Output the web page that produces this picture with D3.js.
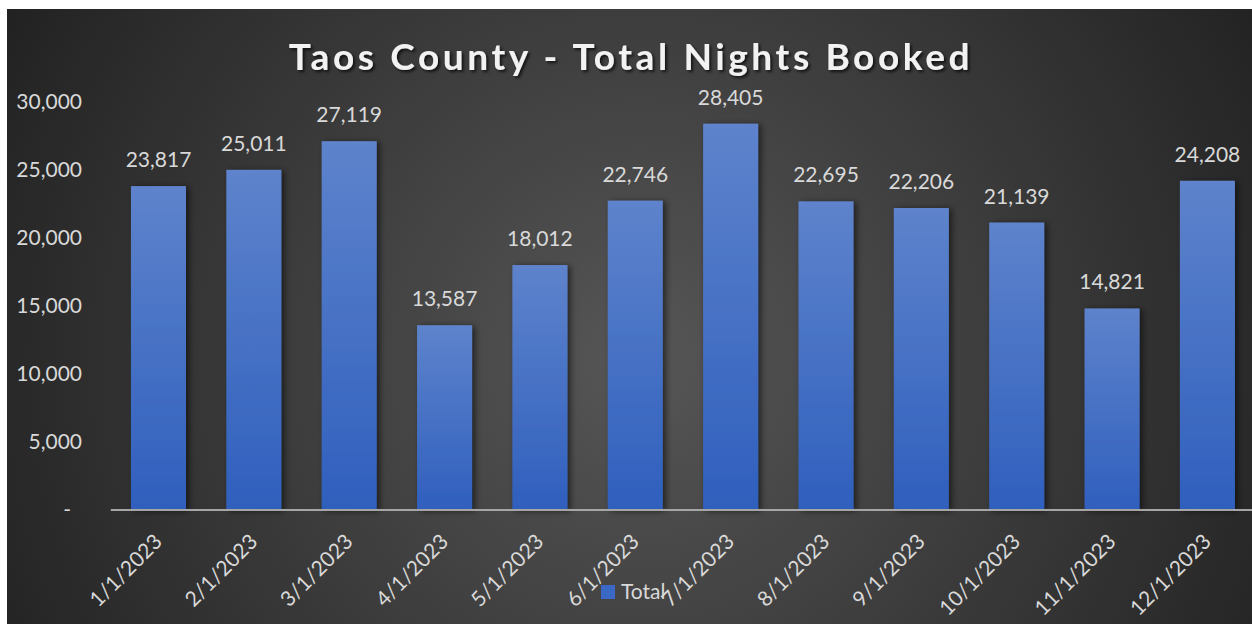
<!DOCTYPE html>
<html>
<head>
<meta charset="utf-8">
<script src="https://cdn.jsdelivr.net/npm/d3@7"></script>
<style>
    html, body { margin: 0; padding: 0; background: #fff; overflow: hidden; }
    svg { display: block; font-family: Lato, "Open Sans", sans-serif; }
</style>
</head>
<body>
<div id="chart"></div>
<script>
const months = ['1/1/2023', '2/1/2023', '3/1/2023', '4/1/2023', '5/1/2023', '6/1/2023',
    '7/1/2023', '8/1/2023', '9/1/2023', '10/1/2023', '11/1/2023', '12/1/2023'];
const totals = [23817, 25011, 27119, 13587, 18012, 22746, 28405, 22695, 22206, 21139, 14821, 24208];
const yTicks = [0, 5000, 10000, 15000, 20000, 25000, 30000];
const seriesName = 'Total';
const chartTitle = 'Taos County - Total Nights Booked';

const width = 1252, height = 624;
const labelColor = '#d9d9d9';

const svg = d3.select('#chart').append('svg')
    .attr('width', width)
    .attr('height', height);

const defs = svg.append('defs');

// fond radial facon Excel
const bg = defs.append('radialGradient')
    .attr('id', 'bg')
    .attr('gradientUnits', 'userSpaceOnUse')
    .attr('cx', 640).attr('cy', 360).attr('r', 720);
bg.append('stop').attr('offset', '0%').attr('stop-color', '#565656');
bg.append('stop').attr('offset', '100%').attr('stop-color', '#222222');

const barGrad = defs.append('linearGradient')
    .attr('id', 'barGrad')
    .attr('x1', 0).attr('y1', 0).attr('x2', 0).attr('y2', 1);
barGrad.append('stop').attr('offset', '0%').attr('stop-color', '#5e83cc');
barGrad.append('stop').attr('offset', '100%').attr('stop-color', '#2f5fbd');

const barShadow = defs.append('filter').attr('id', 'barShadow')
    .attr('x', '-20%').attr('y', '-5%').attr('width', '150%').attr('height', '110%');
barShadow.append('feDropShadow')
    .attr('dx', 3).attr('dy', 1).attr('stdDeviation', 3)
    .attr('flood-color', '#000').attr('flood-opacity', 0.55);

const titleShadow = defs.append('filter').attr('id', 'titleShadow')
    .attr('x', '-5%').attr('y', '-30%').attr('width', '110%').attr('height', '160%');
titleShadow.append('feDropShadow')
    .attr('dx', 2).attr('dy', 2).attr('stdDeviation', 1.5)
    .attr('flood-color', '#000').attr('flood-opacity', 0.7);

svg.append('rect')
    .attr('x', 7).attr('y', 9)
    .attr('width', width).attr('height', height)
    .attr('fill', 'url(#bg)');

// echelles
const x = d3.scaleBand()
    .domain(months)
    .range([110.8, 1255.1])
    .paddingInner(0.423)
    .paddingOuter(0.2115);

const y = d3.scaleLinear()
    .domain([0, 30000])
    .range([510, 102]);

// titre
svg.append('text')
    .attr('x', 631)
    .attr('y', 70)
    .attr('text-anchor', 'middle')
    .attr('fill', '#f2f2f2')
    .attr('filter', 'url(#titleShadow)')
    .style('font-size', '37px')
    .style('font-weight', 'bold')
    .style('letter-spacing', '3.6px')
    .text(chartTitle);

// axe Y
const yAxis = svg.append('g')
    .attr('transform', 'translate(82,0)')
    .call(d3.axisLeft(y)
        .tickValues(yTicks)
        .tickSize(0)
        .tickPadding(0)
        .tickFormat(d => d === 0 ? '-' : d3.format(',')(d)));
yAxis.select('.domain').remove();
yAxis.selectAll('text')
    .attr('fill', labelColor)
    .attr('dx', d => d === 0 ? -11 : 0)
    .style('font-size', '21px')
    .style('font-family', 'Lato, "Open Sans", sans-serif');

// barres
svg.append('g')
    .selectAll('rect')
    .data(totals)
    .enter()
    .append('rect')
    .attr('x', (d, i) => x(months[i]))
    .attr('y', d => y(d))
    .attr('width', x.bandwidth())
    .attr('height', d => y(0) - y(d))
    .attr('fill', 'url(#barGrad)')
    .attr('filter', 'url(#barShadow)');

// etiquettes de valeurs
svg.append('g')
    .selectAll('text')
    .data(totals)
    .enter()
    .append('text')
    .attr('x', (d, i) => x(months[i]) + x.bandwidth() / 2)
    .attr('y', d => y(d) - 19)
    .attr('text-anchor', 'middle')
    .attr('fill', labelColor)
    .style('font-size', '21px')
    .text(d => d3.format(',')(d));

// ligne de base
svg.append('line')
    .attr('x1', 110.8).attr('x2', width)
    .attr('y1', y(0)).attr('y2', y(0))
    .attr('stroke', '#a6a6a6')
    .attr('stroke-width', 2);

// legende
const legend = svg.append('g');
legend.append('rect')
    .attr('x', 601).attr('y', 585)
    .attr('width', 14).attr('height', 14)
    .attr('fill', '#3a68c4');
legend.append('text')
    .attr('x', 621).attr('y', 599)
    .attr('fill', labelColor)
    .style('font-size', '21px')
    .text(seriesName);

// axe X
const xAxis = svg.append('g')
    .attr('transform', `translate(0,${y(0)})`)
    .call(d3.axisBottom(x).tickSize(0).tickPadding(0));
xAxis.select('.domain').remove();
xAxis.selectAll('text')
    .attr('fill', labelColor)
    .attr('text-anchor', 'end')
    .attr('y', 0)
    .attr('dy', 0)
    .attr('transform', 'translate(5,33) rotate(-45)')
    .style('font-size', '21px')
    .style('font-family', 'Lato, "Open Sans", sans-serif');
</script>
</body>
</html>
